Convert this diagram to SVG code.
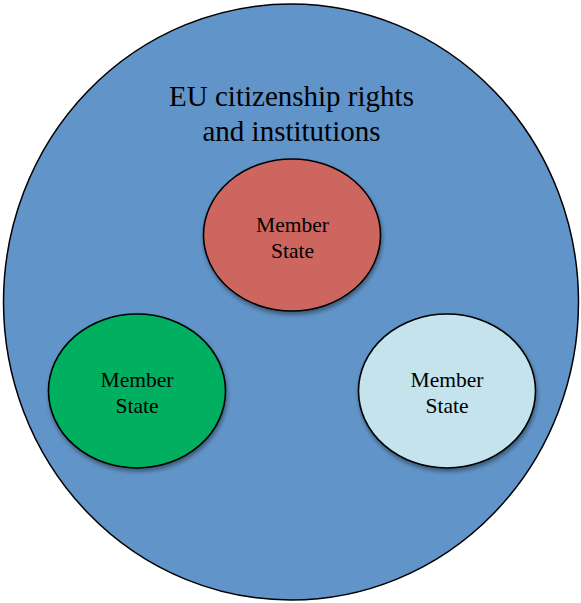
<svg xmlns="http://www.w3.org/2000/svg" width="581" height="603" viewBox="0 0 581 603">
<defs>
<filter id="sh" x="-10%" y="-10%" width="125%" height="125%">
<feGaussianBlur in="SourceAlpha" stdDeviation="2"/>
<feOffset dx="1" dy="3" result="b"/>
<feComponentTransfer><feFuncA type="linear" slope="0.4"/></feComponentTransfer>
<feMerge><feMergeNode/><feMergeNode in="SourceGraphic"/></feMerge>
</filter>
<style>
.ms{stroke:#000;stroke-width:1.6;filter:url(#sh)}
.t{font-family:"Liberation Serif","Times New Roman",serif;fill:#000;text-anchor:middle}
</style>
</defs>
<rect width="581" height="603" fill="#fff"/>
<g id="eu">
<ellipse cx="291" cy="302" rx="287.5" ry="298" fill="#6194C8" stroke="#000" stroke-width="1.5"/>
<text class="t" x="291.5" y="106" font-size="29">EU citizenship rights</text>
<text class="t" x="291.5" y="141" font-size="29">and institutions</text>
</g>
<g id="ms-red">
<ellipse class="ms" cx="292" cy="235" rx="88.5" ry="76" fill="#CD665F"/>
<text class="t" x="292.5" y="232" font-size="21.5">Member</text>
<text class="t" x="292.5" y="258" font-size="21.5">State</text>
</g>
<g id="ms-green">
<ellipse class="ms" cx="137" cy="391" rx="88.5" ry="77" fill="#00B060"/>
<text class="t" x="137" y="387" font-size="21.5">Member</text>
<text class="t" x="137" y="413" font-size="21.5">State</text>
</g>
<g id="ms-lightblue">
<ellipse class="ms" cx="447" cy="391" rx="88.5" ry="77" fill="#C4E3EC"/>
<text class="t" x="447" y="387" font-size="21.5">Member</text>
<text class="t" x="447" y="413" font-size="21.5">State</text>
</g>
<g id="connectors"/>
</svg>
